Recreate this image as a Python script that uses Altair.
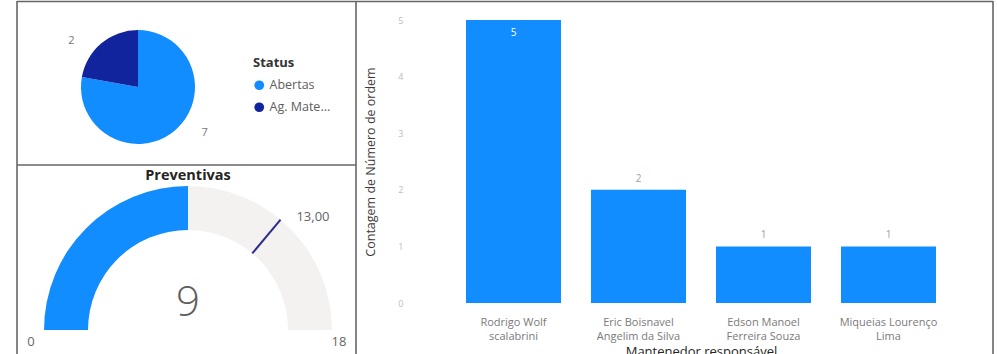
import math
import altair as alt
import pandas as pd

FONT = "Open Sans"

# ---- data ----
status = ["Abertas", "Ag. Mate..."]
status_count = [7, 2]
status_colors = ["#118DFF", "#12239E"]

maintainers = [
    "Rodrigo Wolf\nscalabrini",
    "Eric Boisnavel\nAngelim da Silva",
    "Edson Manoel\nFerreira Souza",
    "Miqueias Lourenço\nLima",
]
order_count = [5, 2, 1, 1]

gauge_title = "Preventivas"
gauge_value = [9]
gauge_min = [0]
gauge_max = [18]
gauge_target = [13]

pie_df = pd.DataFrame({"Status": status, "n": status_count, "idx": list(range(len(status)))})
bar_df = pd.DataFrame({"name": maintainers, "n": order_count})
gauge_df = pd.DataFrame({"lo": gauge_min, "hi": gauge_max, "value": gauge_value, "target": gauge_target})

# ---- bar chart (right panel) ----
xscale = alt.Scale(domain=maintainers, range=[436, 966], paddingInner=0.24, paddingOuter=0.24)
yscale = alt.Scale(domain=[0, 5], range=[303, 20])

bar_base = alt.Chart(bar_df).encode(
    x=alt.X(
        "name:N", scale=xscale,
        axis=alt.Axis(
            orient="bottom", offset=-51, title="Mantenedor responsável",
            labelExpr="split(datum.label, '\\n')", labelAngle=0, labelFontSize=11,
            labelColor="#7A7A7A", labelLineHeight=14.5, labelPadding=13, labelLimit=220,
            domain=False, ticks=False, titleFontSize=13, titleColor="#252423",
            titleFontWeight="normal", titlePadding=4,
        ),
    ),
    y=alt.Y(
        "n:Q", scale=yscale,
        axis=alt.Axis(
            orient="left", offset=-436, values=[0, 1, 2, 3, 4, 5], labelFontSize=9,
            labelColor="#BDBDBD", labelPadding=33, domain=False, ticks=False, grid=False,
            title="Contagem de Número de ordem", titleFontSize=12.5, titleColor="#3B3B3B",
            titleFontWeight="normal", titlePadding=20,
        ),
    ),
)
bars = bar_base.mark_bar(color="#118DFF")
lab_in = bar_base.transform_joinaggregate(m="max(n)").transform_filter(
    "datum.n == datum.m").mark_text(dy=13, color="white", fontSize=10).encode(text="n:Q")
lab_out = bar_base.transform_joinaggregate(m="max(n)").transform_filter(
    "datum.n < datum.m").mark_text(dy=-11, color="#A0A0A0", fontSize=10).encode(text="n:Q")

# ---- pie (top-left panel) ----
pie_base = alt.Chart(pie_df).encode(order=alt.Order("idx:Q"))
pie = pie_base.mark_arc(radius=57).encode(
    theta=alt.Theta("n:Q", stack=True),
    color=alt.Color(
        "Status:N", scale=alt.Scale(domain=status, range=status_colors),
        legend=alt.Legend(
            title="Status", orient="none", legendX=253, legendY=57, padding=0,
            titleFontSize=13, titleFontWeight="bold", titleColor="#333333", titlePadding=9,
            labelFontSize=12.5, labelColor="#605E5C", symbolType="circle", symbolSize=95,
            symbolStrokeWidth=0, rowPadding=9, labelOffset=4,
        ),
    ),
    x=alt.value(138), y=alt.value(87),
)
pie_labels = pie_base.mark_text(radius=81, fontSize=11, color="#777777").encode(
    theta=alt.Theta("n:Q", stack=True, scale=alt.Scale(range=[-0.27, 2 * math.pi - 0.27])),
    detail="Status:N",
    text="n:Q",
    x=alt.value(138), y=alt.value(87),
)

# ---- gauge (bottom-left panel) ----
GX, GY, GR, GIR = 188, 330, 144, 100
gscale = alt.Scale(domain=[gauge_min[0], gauge_max[0]], range=[-math.pi / 2, math.pi / 2])
gbase = alt.Chart(gauge_df)
g_bg = gbase.mark_arc(radius=GR, innerRadius=GIR, color="#F3F2F1").encode(
    theta=alt.Theta("lo:Q", scale=gscale), theta2="hi:Q", x=alt.value(GX), y=alt.value(GY))
g_fill = gbase.mark_arc(radius=GR, innerRadius=GIR, color="#118DFF").encode(
    theta=alt.Theta("lo:Q", scale=gscale), theta2="value:Q", x=alt.value(GX), y=alt.value(GY))
g_target = gbase.mark_arc(radius=GR, innerRadius=GIR, fillOpacity=0, stroke="#2B2E8F",
                          strokeWidth=2).encode(
    theta=alt.Theta("target:Q", scale=gscale), theta2="target:Q", x=alt.value(GX), y=alt.value(GY))
g_target_lab = gbase.transform_calculate(
    t="replace(format(datum.target, '.2f'), '.', ',')").mark_text(
    radius=150, dx=12, dy=2, align="left", baseline="middle", fontSize=13, color="#666666").encode(
    theta=alt.Theta("target:Q", scale=gscale), text="t:N", x=alt.value(GX), y=alt.value(GY))
g_title = gbase.mark_text(fontSize=14.5, fontWeight="bold", color="#252423").encode(
    text=alt.value(gauge_title), x=alt.value(188), y=alt.value(176))
g_value = gbase.mark_text(fontSize=42, fontWeight=300, color="#605E5C").encode(
    text="value:Q", x=alt.value(188), y=alt.value(303))
g_min = gbase.mark_text(fontSize=13, color="#666666").encode(
    text="lo:Q", x=alt.value(31), y=alt.value(342))
g_max = gbase.mark_text(fontSize=13, color="#666666").encode(
    text="hi:Q", x=alt.value(339), y=alt.value(342))

# ---- frame lines ----
fr = dict(color="#666666", strokeWidth=1.6)
f_top = gbase.mark_rule(**fr).encode(x=alt.value(17), x2=alt.value(993), y=alt.value(1.5))
f_left = gbase.mark_rule(**fr).encode(x=alt.value(17), y=alt.value(1), y2=alt.value(354))
f_mid = gbase.mark_rule(**fr).encode(x=alt.value(356), y=alt.value(1), y2=alt.value(354))
f_right = gbase.mark_rule(**fr).encode(x=alt.value(993), y=alt.value(1), y2=alt.value(354))
f_h = gbase.mark_rule(**fr).encode(x=alt.value(17), x2=alt.value(356), y=alt.value(165))

chart = alt.layer(
    g_bg, g_fill, g_target, g_target_lab, g_title, g_value, g_min, g_max,
    bars, lab_in, lab_out,
    pie, pie_labels,
    f_top, f_left, f_mid, f_right, f_h,
).resolve_scale(theta="independent").properties(
    width=997, height=354, padding=0, autosize=alt.AutoSizeParams(type="none"),
).configure(font=FONT).configure_view(stroke="transparent")

chart.save("out.html", embed_options={"renderer": "svg", "actions": False})
